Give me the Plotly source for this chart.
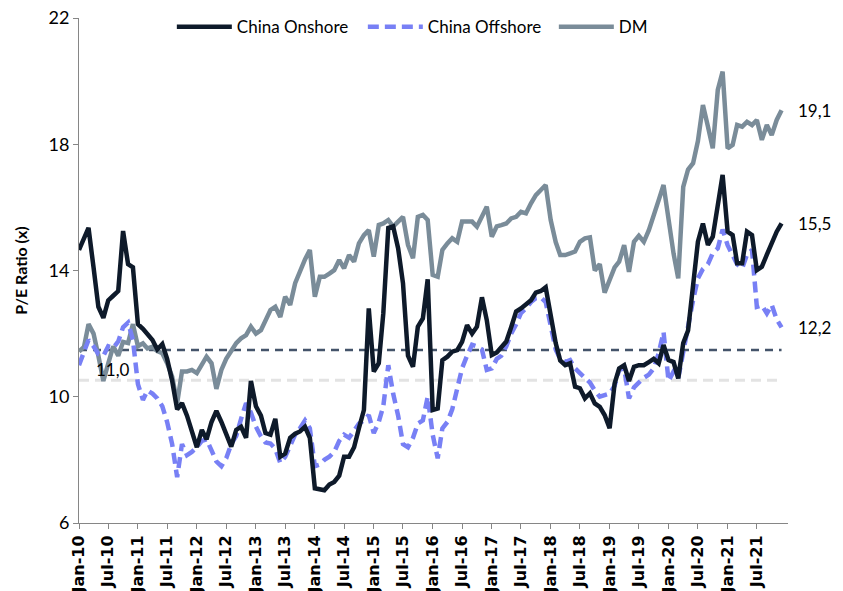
import pandas as pd
import plotly.graph_objects as go

# ---- data (monthly, Jan-2010 .. Dec-2021) ----
months = pd.date_range("2010-01-01", periods=144, freq="MS")
tick_dates = months[::6]
tick_labels = [d.strftime("%b-%y") for d in tick_dates]

china_onshore = [
    14.65, 15.0, 15.35, 14.1, 12.85, 12.5, 13.05, 13.2, 13.35, 15.25, 14.2, 14.1,
    12.3, 12.15, 12.0, 11.8, 11.5, 11.67, 11.2, 10.5, 9.6, 9.8, 9.4, 8.9,
    8.4, 8.95, 8.65, 9.2, 9.55, 9.2, 8.8, 8.42, 8.95, 9.05, 8.7, 10.5,
    9.7, 9.4, 8.85, 8.8, 9.3, 8.1, 8.2, 8.7, 8.83, 8.9, 9.05, 8.7,
    7.1, 7.06, 7.04, 7.22, 7.3, 7.5, 8.1, 8.1, 8.4, 9.0, 9.58, 12.8,
    10.8, 11.06, 12.64, 15.35, 15.4, 14.7, 13.6, 11.3, 10.95, 12.22, 12.48, 13.72,
    9.58, 9.63, 11.16, 11.27, 11.43, 11.48, 11.74, 12.27, 12.0, 12.22, 13.15, 12.43,
    11.32, 11.4, 11.55, 11.75, 12.2, 12.7, 12.8, 12.91, 13.06, 13.3, 13.35, 13.47,
    12.6, 11.7, 11.15, 11.0, 11.06, 10.32, 10.27, 9.95, 10.11, 9.79, 9.68, 9.42,
    9.0, 10.42, 10.9, 11.0, 10.5, 10.95, 11.0, 11.0, 11.1, 11.2, 11.06, 11.64,
    11.16, 11.1, 10.58, 11.7, 12.1, 13.5, 14.91, 15.49, 14.81, 15.07, 16.0, 17.03,
    15.23, 15.12, 14.23, 14.23, 15.23, 15.12, 14.01, 14.12, 14.5, 14.85, 15.23, 15.49,
]

china_offshore = [
    11.0, 11.4, 11.8, 11.6, 11.35, 11.3, 11.6, 11.55, 11.75, 12.2, 12.35, 11.8,
    10.4, 9.9, 10.2, 10.1, 9.95, 9.7, 9.2, 8.5, 7.45, 8.5, 8.15, 8.25,
    8.4, 8.6, 8.65, 8.3, 7.95, 7.8, 8.05, 8.5, 8.75, 9.3, 9.8, 9.5,
    9.05, 8.75, 8.55, 8.52, 8.35, 7.9, 8.1, 8.45, 8.8, 9.0, 9.25, 9.0,
    7.8, 7.85, 8.0, 8.1, 8.25, 8.6, 8.8, 8.7, 8.9, 9.15, 9.25, 9.42,
    8.85, 9.2, 9.7, 11.0, 10.1, 9.4, 8.5, 8.4, 8.7, 9.15, 9.25, 10.0,
    8.8, 8.05, 9.0, 9.2, 9.6, 10.2, 10.9, 11.3, 11.65, 11.6, 11.5, 10.85,
    10.9, 11.2, 11.3, 11.6, 12.0, 12.3, 12.65, 12.8, 13.0, 13.12, 13.15, 13.0,
    12.2, 11.5, 11.2, 11.1, 11.16, 10.9, 10.75, 10.6, 10.45, 10.2, 10.0, 10.05,
    10.1, 10.35, 10.85, 10.9, 9.95, 10.3, 10.45, 10.6, 10.7, 10.9, 11.38, 12.05,
    10.5, 10.8, 10.58, 11.45, 12.2, 13.06, 13.75, 14.05, 14.2, 14.55, 14.7, 15.3,
    14.8, 14.5, 14.2, 14.07, 14.5, 14.65, 12.85, 12.9, 12.64, 12.91, 12.45, 12.2,
]

dm = [
    11.43, 11.58, 12.3, 12.0, 11.3, 10.5, 11.05, 11.6, 11.3, 11.74, 11.7, 12.3,
    11.6, 11.69, 11.53, 11.58, 11.45, 11.38, 11.06, 10.64, 9.8, 10.8, 10.8, 10.85,
    10.75, 11.0, 11.27, 11.06, 10.25, 10.85, 11.2, 11.45, 11.7, 11.85, 11.95, 12.22,
    12.0, 12.11, 12.43, 12.75, 12.85, 12.53, 13.17, 12.91, 13.6, 14.0, 14.35, 14.65,
    13.17, 13.8, 13.8, 13.9, 14.01, 14.33, 14.07, 14.49, 14.28, 14.86, 15.12, 15.28,
    14.44, 15.44, 15.49, 15.6, 15.39, 15.55, 15.7, 14.81, 14.39, 15.7, 15.76, 15.6,
    13.86, 13.8, 14.65, 14.86, 15.02, 14.91, 15.55, 15.55, 15.55, 15.39, 15.7, 16.02,
    15.07, 15.4, 15.44, 15.49, 15.65, 15.7, 15.86, 15.81, 16.13, 16.39, 16.55, 16.71,
    15.6, 14.9, 14.49, 14.49, 14.54, 14.6, 14.91, 15.02, 15.05, 14.0, 14.2, 13.3,
    13.7, 14.1, 14.28, 14.8, 13.96, 14.91, 15.1, 14.91, 15.28, 15.7, 16.23, 16.71,
    15.6, 14.54, 13.75, 16.65, 17.2, 17.4, 18.1, 19.24, 18.56, 17.87, 19.72, 20.3,
    17.87, 17.98, 18.61, 18.56, 18.71, 18.61, 18.77, 18.14, 18.61, 18.29, 18.77, 19.08,
]

avg_dark = 11.48    # dark dashed reference line
avg_light = 10.52   # light grey dashed reference line
avg_label = "11,0"

y_ticks = [6, 10, 14, 18, 22]

C_ON = "#0e1a2a"
C_OFF = "#7880f5"
C_DM = "#7a8c99"
C_REF_DARK = "#44546a"
C_REF_LIGHT = "#e3e3e3"
FONT = "Lato"

fig = go.Figure()

fig.add_trace(go.Scatter(x=months, y=[avg_light] * len(months), mode="lines",
                         line=dict(color=C_REF_LIGHT, width=3, dash="10px,6px"),
                         showlegend=False, hoverinfo="skip"))
fig.add_trace(go.Scatter(x=months, y=[avg_dark] * len(months), mode="lines",
                         line=dict(color=C_REF_DARK, width=2.5, dash="8px,6px"),
                         showlegend=False, hoverinfo="skip"))
fig.add_trace(go.Scatter(x=months, y=dm, mode="lines", name="DM",
                         line=dict(color=C_DM, width=4.5)))
fig.add_trace(go.Scatter(x=months, y=china_offshore, mode="lines", name="China Offshore",
                         line=dict(color=C_OFF, width=4.5, dash="11px,6px")))
fig.add_trace(go.Scatter(x=months, y=china_onshore, mode="lines", name="China Onshore",
                         line=dict(color=C_ON, width=4.5)))

def fmt(v):
    return f"{v:.1f}".replace(".", ",")

for series in (dm, china_onshore, china_offshore):
    fig.add_annotation(x=months[-1], y=series[-1], text=fmt(series[-1]),
                       xref="x", yref="y", xanchor="left", yanchor="middle",
                       xshift=14, showarrow=False,
                       font=dict(family=FONT, size=17, color="#000000"))

fig.add_annotation(x=months[7], y=10.85, text=avg_label, xref="x", yref="y",
                   xanchor="center", yanchor="middle", showarrow=False,
                   font=dict(family=FONT, size=17, color="#000000"))

fig.update_layout(
    width=843, height=591,
    margin=dict(l=79, r=55, t=18, b=68, autoexpand=False),
    paper_bgcolor="white", plot_bgcolor="white",
    font=dict(family=FONT, size=17, color="#000000"),
    legend=dict(orientation="h", xref="container", yref="container",
                x=0.5437, xanchor="center", y=0.954, yanchor="middle",
                traceorder="reversed", font=dict(family=FONT, size=17),
                bgcolor="rgba(0,0,0,0)", itemwidth=55, entrywidth=121),
    showlegend=True,
)

fig.update_xaxes(
    type="date", range=["2010-01-01", "2022-01-10"], automargin=False,
    tickvals=tick_dates, ticktext=tick_labels, tickangle=-90,
    showgrid=False, showline=True, linecolor="#868686", linewidth=1,
    ticks="outside", ticklen=5, tickcolor="#868686",
    tickfont=dict(family="DejaVu Sans", size=16, color="#000000", weight="bold"),
    zeroline=False,
)
fig.update_yaxes(
    range=[6, 22], tickvals=y_ticks, ticktext=[str(t) for t in y_ticks],
    automargin=False,
    showgrid=False, showline=True, linecolor="#868686", linewidth=1,
    ticks="outside", ticklen=5, tickcolor="#868686",
    tickfont=dict(family=FONT, size=18, color="#000000"),
    title=dict(text="<b>P/E Ratio (x)</b>", font=dict(family=FONT, size=16), standoff=16),
    zeroline=False,
)

fig.write_html("out.html")
